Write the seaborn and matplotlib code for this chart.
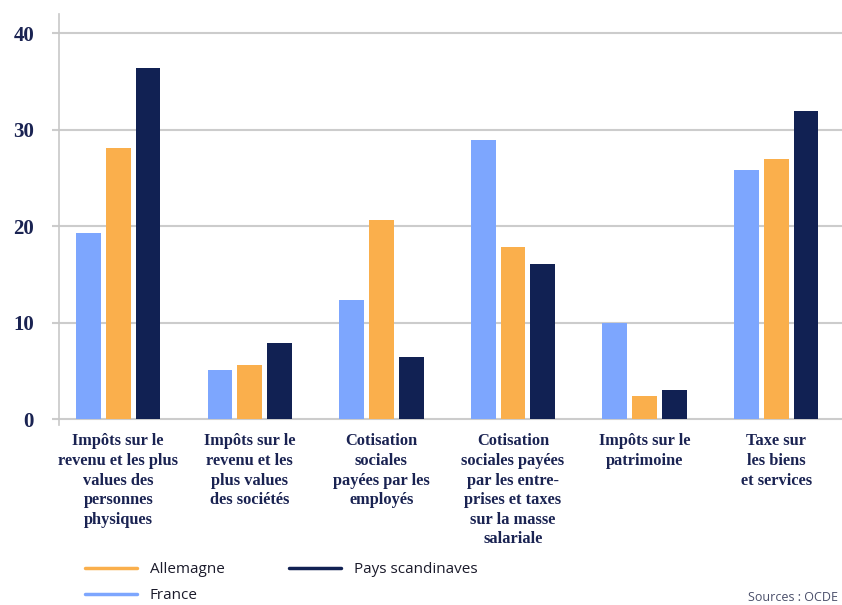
import matplotlib
matplotlib.use("Agg")
import matplotlib.pyplot as plt
import seaborn as sns
import pandas as pd
from matplotlib.lines import Line2D

categories = [
    "Impôts sur le\nrevenu et les plus\nvalues des\npersonnes\nphysiques",
    "Impôts sur le\nrevenu et les\nplus values\ndes sociétés",
    "Cotisation\nsociales\npayées par les\nemployés",
    "Cotisation\nsociales payées\npar les entre-\nprises et taxes\nsur la masse\nsalariale",
    "Impôts sur le\npatrimoine",
    "Taxe sur\nles biens\net services",
]
series = ["France", "Allemagne", "Pays scandinaves"]
france = [19.3, 5.1, 12.4, 28.9, 10.0, 25.8]
allemagne = [28.1, 5.6, 20.7, 17.9, 2.4, 27.0]
scandinaves = [36.4, 7.9, 6.5, 16.1, 3.0, 31.9]
yticks = [0, 10, 20, 30, 40]

colors = {"France": "#7DA6FE", "Allemagne": "#FAAF4C", "Pays scandinaves": "#112153"}
navy = "#1A2352"

rows = []
for vals, name in zip([france, allemagne, scandinaves], series):
    for c, v in zip(categories, vals):
        rows.append({"cat": c, "pays": name, "val": v})
df = pd.DataFrame(rows)

sns.set_theme(style="white")
fig = plt.figure(figsize=(8.42, 6.05), dpi=100)
ax = fig.add_axes([59/842, 1-425/605, 1-59/842, (425-14)/605])

sns.barplot(data=df, x="cat", y="val", hue="pays", hue_order=series,
            order=categories, palette=colors, width=0.68, gap=0.17,
            saturation=1, ax=ax, legend=False, errorbar=None, linewidth=0)

ax.set_xlim(-0.45, 5.5)
ax.set_ylim(-0.6, 42)
ax.set_yticks(yticks)
ax.set_yticklabels([str(t) for t in yticks], fontfamily="Liberation Serif",
                   fontweight="bold", fontsize=15, color=navy)
ax.yaxis.grid(True, color="#CCCCCC", linewidth=1.5)
ax.set_axisbelow(True)
ax.tick_params(axis="y", length=5, width=1.5, color="#CCCCCC", pad=13, left=True)
ax.tick_params(axis="x", length=0, pad=6)
for lab in ax.get_xticklabels():
    lab.set_fontfamily("Liberation Serif")
    lab.set_fontweight("bold")
    lab.set_fontsize(11.8)
    lab.set_color(navy)
    lab.set_linespacing(1.3)
ax.set_xlabel("")
ax.set_ylabel("")
for s in ["top", "right", "bottom"]:
    ax.spines[s].set_visible(False)
ax.spines["left"].set_color("#C8C8C8")
ax.spines["left"].set_linewidth(1.2)

order_leg = ["Allemagne", "France", "Pays scandinaves"]
handles = [Line2D([0], [0], color=colors[n], linewidth=2.5) for n in order_leg]
leg = fig.legend(handles, order_leg, ncol=2, loc="upper left",
                 bbox_to_anchor=(85/842, 1-562/605), frameon=False,
                 borderpad=0, borderaxespad=0, handlelength=3.4,
                 handletextpad=0.85, columnspacing=4.2, labelspacing=0.75,
                 prop={"family": "Open Sans", "size": 11})
for t in leg.get_texts():
    t.set_color("#1B1B2B")

fig.text(838/842, 1-591/605, "Sources : OCDE", fontsize=9, color="#4A4F6A",
         fontfamily="Open Sans", va="top", ha="right")

fig.savefig("out.png", dpi=100)
